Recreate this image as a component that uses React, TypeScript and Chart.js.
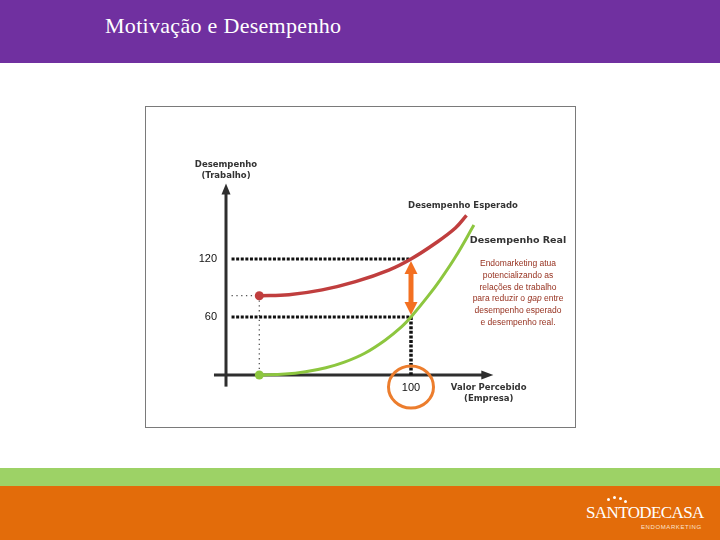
import React, { useEffect, useRef } from "react";
import { Chart, registerables } from "chart.js";
Chart.register(...registerables);

const titleText = "Motivação e Desempenho";
const expectedX = [18, 34, 52, 70, 88, 100, 113, 124, 130];
const expectedY = [82, 83, 88, 96.5, 108.5, 120, 136, 152, 165];
const realX = [18, 32, 43, 54, 64, 75, 86, 95, 100, 109, 116, 124, 134];
const realY = [0, 1, 3.4, 7.5, 13.3, 22.5, 36, 50, 60, 81, 99, 122, 155];
const yTickValues = [120, 60];
const yTickLabels = ["120", "60"];
const xTickValue = 100;
const xTickLabel = "100";
const startX = 18;
const startExpected = 82;
const startReal = 0;
const yAxisTitle = ["Desempenho", "(Trabalho)"];
const xAxisTitle = ["Valor Percebido", "(Empresa)"];
const expectedLabel = "Desempenho Esperado";
const realLabel = "Desempenho Real";
const noteLines = [
  ["Endomarketing atua"],
  ["potencializando as"],
  ["relações de trabalho"],
  ["para reduzir o ", "gap", " entre"],
  ["desempenho esperado"],
  ["e desempenho real."],
];

const RED = "rgb(192,62,62)";
const GREEN = "rgb(141,198,63)";
const ORANGE = "rgb(243,112,33)";
const AXIS = "#2e2e2e";

function pts(xs: number[], ys: number[]) {
  return xs.map((x, i) => ({ x, y: ys[i] }));
}

const decorPlugin = {
  id: "decor",
  beforeDatasetsDraw(chart: any) {
    const { ctx } = chart;
    const xs = chart.scales.x;
    const ys = chart.scales.y;
    const x0 = xs.getPixelForValue(0);
    const y0 = ys.getPixelForValue(0);
    ctx.save();
    ctx.strokeStyle = AXIS;
    ctx.fillStyle = AXIS;
    ctx.lineWidth = 3;
    const yTop = ys.getPixelForValue(198);
    const yBot = ys.getPixelForValue(-12);
    ctx.beginPath();
    ctx.moveTo(x0, yBot);
    ctx.lineTo(x0, yTop + 9);
    ctx.stroke();
    ctx.beginPath();
    ctx.moveTo(x0, yTop);
    ctx.lineTo(x0 - 4.5, yTop + 11);
    ctx.lineTo(x0 + 4.5, yTop + 11);
    ctx.closePath();
    ctx.fill();
    const xL = xs.getPixelForValue(-6.5);
    const xR = xs.getPixelForValue(144.5);
    ctx.beginPath();
    ctx.moveTo(xL, y0);
    ctx.lineTo(xR - 9, y0);
    ctx.stroke();
    ctx.beginPath();
    ctx.moveTo(xR, y0);
    ctx.lineTo(xR - 12, y0 - 4.5);
    ctx.lineTo(xR - 12, y0 + 4.5);
    ctx.closePath();
    ctx.fill();
    ctx.restore();
  },
  afterDatasetsDraw(chart: any) {
    const { ctx } = chart;
    const xs = chart.scales.x;
    const ys = chart.scales.y;
    const xp = xs.getPixelForValue(xTickValue);
    const yA = ys.getPixelForValue(yTickValues[0]) + 2;
    const yB = ys.getPixelForValue(yTickValues[1]) - 2;
    ctx.save();
    ctx.fillStyle = ORANGE;
    ctx.strokeStyle = ORANGE;
    ctx.lineWidth = 5;
    ctx.beginPath();
    ctx.moveTo(xp, yA + 10);
    ctx.lineTo(xp, yB - 10);
    ctx.stroke();
    ctx.beginPath();
    ctx.moveTo(xp, yA);
    ctx.lineTo(xp - 6.5, yA + 13);
    ctx.lineTo(xp + 6.5, yA + 13);
    ctx.closePath();
    ctx.fill();
    ctx.beginPath();
    ctx.moveTo(xp, yB);
    ctx.lineTo(xp - 6.5, yB - 13);
    ctx.lineTo(xp + 6.5, yB - 13);
    ctx.closePath();
    ctx.fill();
    const y0 = ys.getPixelForValue(0);
    ctx.strokeStyle = "rgb(236,125,45)";
    ctx.lineWidth = 3;
    ctx.beginPath();
    ctx.ellipse(xp, y0 + 12, 22.5, 21, 0, 0, Math.PI * 2);
    ctx.stroke();
    ctx.restore();
  },
  afterDraw(chart: any) {
    const { ctx } = chart;
    const xs = chart.scales.x;
    const ys = chart.scales.y;
    const x0 = xs.getPixelForValue(0);
    const y0 = ys.getPixelForValue(0);
    ctx.save();
    ctx.textBaseline = "middle";
    ctx.fillStyle = "#111";
    ctx.font = "11px 'Liberation Sans', Arial, sans-serif";
    ctx.textAlign = "right";
    yTickValues.forEach((v, i) => {
      ctx.fillText(yTickLabels[i], x0 - 9, ys.getPixelForValue(v));
    });
    ctx.textAlign = "center";
    ctx.fillText(xTickLabel, xs.getPixelForValue(xTickValue), y0 + 13);
    ctx.fillStyle = "#333";
    ctx.font = "bold 8.5px 'DejaVu Sans', Verdana, sans-serif";
    ctx.fillText(yAxisTitle[0], x0, 165);
    ctx.fillText(yAxisTitle[1], x0, 176);
    const xt = xs.getPixelForValue(142);
    ctx.fillText(xAxisTitle[0], xt, y0 + 13);
    ctx.fillText(xAxisTitle[1], xt, y0 + 24);
    ctx.fillText(expectedLabel, 463, 206);
    ctx.font = "bold 9.5px 'DejaVu Sans', Verdana, sans-serif";
    ctx.fillText(realLabel, 518, 241);
    ctx.fillStyle = "rgb(150,48,30)";
    const cx = 518;
    noteLines.forEach((parts, i) => {
      const y = 264 + i * 11.7;
      const fonts = parts.map((_, j) =>
        parts.length === 3 && j === 1
          ? "italic 8.5px 'Liberation Sans', Arial, sans-serif"
          : "8.5px 'Liberation Sans', Arial, sans-serif"
      );
      let total = 0;
      const widths = parts.map((p, j) => {
        ctx.font = fonts[j];
        const w = ctx.measureText(p).width;
        total += w;
        return w;
      });
      let x = cx - total / 2;
      ctx.textAlign = "left";
      parts.forEach((p, j) => {
        ctx.font = fonts[j];
        ctx.fillText(p, x, y);
        x += widths[j];
      });
    });
    ctx.restore();
  },
};

export default function App() {
  const ref = useRef<HTMLCanvasElement | null>(null);
  useEffect(() => {
    if (!ref.current) return;
    const dotted = (data: any[], width: number, dash: number[], color: string) => ({
      data,
      borderColor: color,
      borderWidth: width,
      borderDash: dash,
      pointRadius: 0,
      fill: false,
      tension: 0,
      order: 2,
      clip: false,
    });
    const chart = new Chart(ref.current, {
      type: "line",
      data: {
        datasets: [
          {
            label: expectedLabel,
            data: pts(expectedX, expectedY),
            borderColor: RED,
            backgroundColor: RED,
            borderWidth: 3.5,
            tension: 0.4,
            pointRadius: expectedX.map((_, i) => (i === 0 ? 4.5 : 0)),
            pointBackgroundColor: RED,
            pointBorderWidth: 0,
            order: 0,
            clip: false,
          } as any,
          {
            label: realLabel,
            data: pts(realX, realY),
            borderColor: GREEN,
            backgroundColor: GREEN,
            borderWidth: 3,
            tension: 0.4,
            pointRadius: realX.map((_, i) => (i === 0 ? 4.5 : 0)),
            pointBackgroundColor: GREEN,
            pointBorderWidth: 0,
            order: 0,
            clip: false,
          } as any,
          dotted([{ x: 3, y: yTickValues[0] }, { x: xTickValue, y: yTickValues[0] }], 3, [3, 1.6], "#111"),
          dotted([{ x: 3, y: yTickValues[1] }, { x: xTickValue, y: yTickValues[1] }], 3, [3, 1.6], "#111"),
          dotted([{ x: xTickValue, y: yTickValues[1] }, { x: xTickValue, y: 0 }], 3.5, [3, 1.6], "#111"),
          dotted([{ x: 3, y: startExpected }, { x: startX, y: startExpected }], 1.3, [1.3, 3.5], "#555"),
          dotted([{ x: startX, y: startExpected }, { x: startX, y: startReal }], 1.3, [1.3, 3.5], "#555"),
        ],
      },
      options: {
        animation: false,
        responsive: false,
        devicePixelRatio: 1,
        layout: { padding: { left: 226, right: 216.5, top: 181.6, bottom: 165 } },
        scales: {
          x: { type: "linear", min: 0, max: 150, display: false },
          y: { type: "linear", min: 0, max: 200, display: false },
        },
        plugins: { legend: { display: false }, tooltip: { enabled: false }, title: { display: false } },
      },
      plugins: [decorPlugin],
    } as any);
    return () => chart.destroy();
  }, []);

  return (
    <div style={{ position: "fixed", left: 0, top: 0, width: 720, height: 540, background: "#fff", overflow: "hidden" }}>
      <div style={{ position: "absolute", left: 0, top: 0, width: 720, height: 63, background: "rgb(112,48,160)" }} />
      <div
        style={{
          position: "absolute",
          left: 105,
          top: 13,
          color: "#fff",
          fontFamily: "'Liberation Serif', 'DejaVu Serif', serif",
          fontSize: 22,
          letterSpacing: 0.3,
          whiteSpace: "nowrap",
        }}
      >
        {titleText}
      </div>
      <div
        style={{
          position: "absolute",
          left: 145,
          top: 106,
          width: 429,
          height: 320,
          border: "1.5px solid #7a7a7a",
          background: "#fff",
        }}
      />
      <div style={{ position: "absolute", left: 0, top: 468, width: 720, height: 18, background: "rgb(157,210,102)" }} />
      <div style={{ position: "absolute", left: 0, top: 486, width: 720, height: 54, background: "rgb(227,108,10)" }} />
      <div
        style={{
          position: "absolute",
          left: 586,
          top: 503,
          color: "#fff",
          fontFamily: "'Liberation Serif', serif",
          fontSize: 17,
          letterSpacing: -0.6,
          whiteSpace: "nowrap",
          lineHeight: "20px",
        }}
      >
        SANTODECASA
      </div>
      {[
        [607, 498],
        [613, 496],
        [619, 497],
        [624, 500],
      ].map(([l, t], i) => (
        <div
          key={i}
          style={{ position: "absolute", left: l, top: t, width: 3, height: 3, borderRadius: 2, background: "#fff" }}
        />
      ))}
      <div
        style={{
          position: "absolute",
          left: 641,
          top: 523,
          color: "#fbe3cf",
          fontFamily: "'Liberation Sans', sans-serif",
          fontSize: 6,
          letterSpacing: 0.6,
          whiteSpace: "nowrap",
          lineHeight: "8px",
        }}
      >
        ENDOMARKETING
      </div>
      <canvas
        ref={ref}
        width={720}
        height={540}
        style={{ position: "absolute", left: 0, top: 0, width: 720, height: 540 }}
      />
    </div>
  );
}
